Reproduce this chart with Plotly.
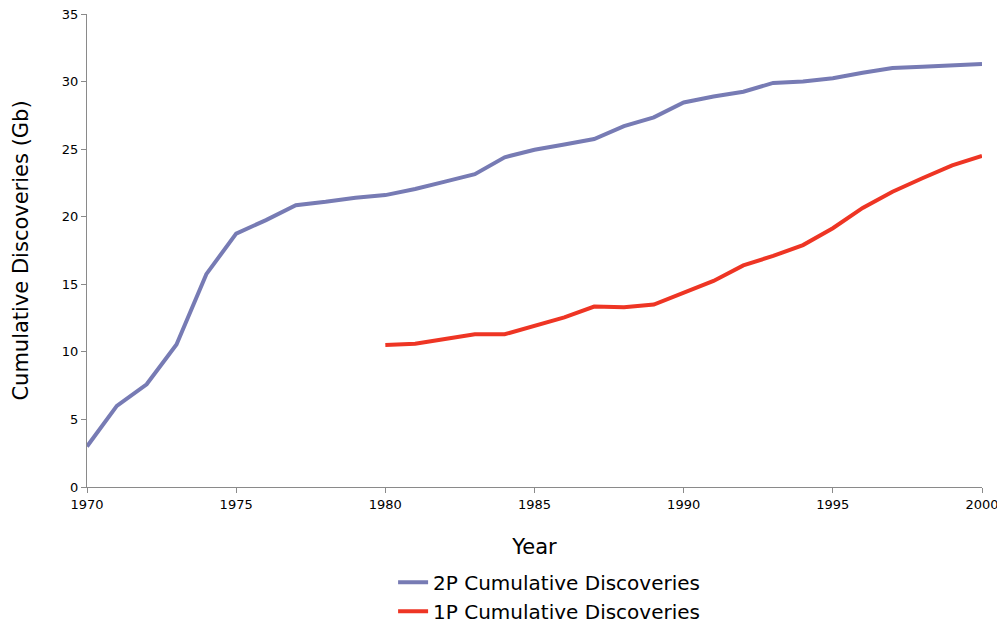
import plotly.graph_objects as go

years = list(range(1970, 2001))
disc_2p = [3.0, 6.0, 7.6, 10.55, 15.75, 18.75, 19.75, 20.85, 21.1, 21.4,
           21.6, 22.05, 22.6, 23.15, 24.4, 24.95, 25.35, 25.75, 26.7, 27.35,
           28.45, 28.9, 29.25, 29.9, 30.0, 30.25, 30.65, 31.0, 31.1, 31.2, 31.3]
years_1p = list(range(1980, 2001))
disc_1p = [10.5, 10.6, 10.95, 11.3, 11.3, 11.9, 12.55, 13.35, 13.3, 13.5,
           14.4, 15.25, 16.4, 17.1, 17.9, 19.15, 20.65, 21.85, 22.85, 23.8, 24.5]

x_ticks = [1970, 1975, 1980, 1985, 1990, 1995, 2000]
y_ticks = [0, 5, 10, 15, 20, 25, 30, 35]

FONT = "DejaVu Sans"

fig = go.Figure()
fig.add_trace(go.Scatter(x=years, y=disc_2p, mode="lines",
                         name="2P Cumulative Discoveries",
                         line=dict(color="#777BB4", width=4)))
fig.add_trace(go.Scatter(x=years_1p, y=disc_1p, mode="lines",
                         name="1P Cumulative Discoveries",
                         line=dict(color="#EE3524", width=4)))

axis_common = dict(showgrid=False, zeroline=False, showline=True,
                   linecolor="#8a8a8a", linewidth=1, ticks="outside",
                   tickcolor="#8a8a8a", ticklen=5, automargin=False,
                   ticklabeloverflow="allow",
                   tickfont=dict(family=FONT, size=13, color="#000"))

# page body has an 8px margin, so the figure is sized/offset to compensate
fig.update_layout(
    width=997, height=621,
    paper_bgcolor="white", plot_bgcolor="white",
    margin=dict(l=79, r=23, t=6, b=142, autoexpand=False),
    font=dict(family=FONT, color="#000"),
    showlegend=True,
    legend=dict(orientation="v", x=0.342, xanchor="left", y=-0.16, yanchor="top",
                font=dict(family=FONT, size=20, color="#000"),
                tracegroupgap=2, itemwidth=30),
    xaxis=dict(range=[1970, 2000], tickvals=x_ticks,
               title=dict(text="Year", font=dict(family=FONT, size=21), standoff=28),
               **axis_common),
    yaxis=dict(range=[0, 35], tickvals=y_ticks,
               title=dict(text="Cumulative Discoveries (Gb)", font=dict(family=FONT, size=21),
                          standoff=27),
               **axis_common),
)

fig.write_html("out.html")
